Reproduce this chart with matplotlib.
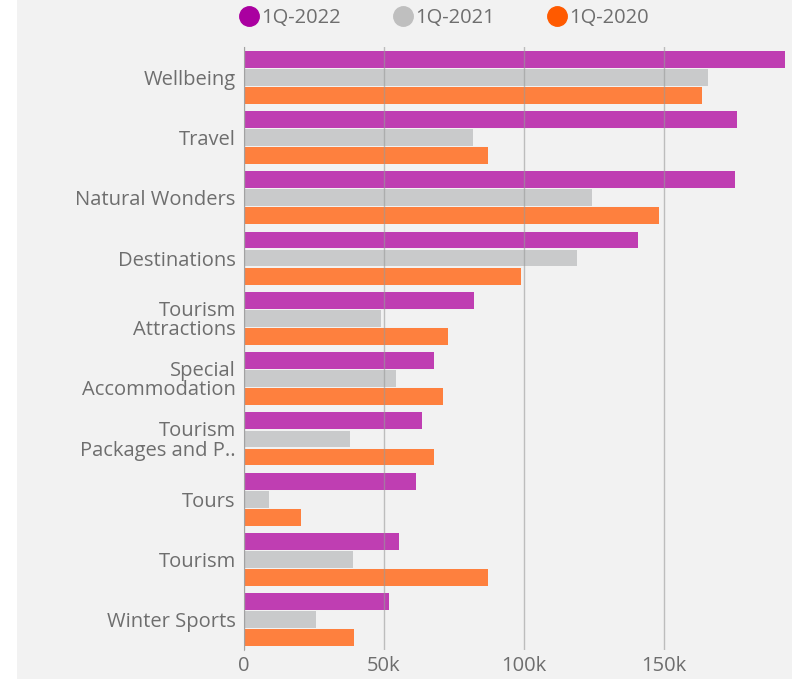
import numpy as np
import matplotlib.pyplot as plt
from matplotlib.lines import Line2D

categories = ['Wellbeing', 'Travel', 'Natural Wonders', 'Destinations',
              'Tourism\nAttractions', 'Special\nAccommodation',
              'Tourism\nPackages and P..', 'Tours', 'Tourism', 'Winter Sports']
series_names = ['1Q-2022', '1Q-2021', '1Q-2020']
q1_2022 = [193600, 176400, 175700, 140700, 82100, 67900, 63600, 61400, 55400, 51800]
q1_2021 = [166000, 81800, 124600, 118900, 48900, 54300, 37900, 8900, 38900, 25700]
q1_2020 = [163600, 87100, 148200, 98900, 72900, 71100, 67900, 20400, 87100, 39300]
xticks = [0, 50000, 100000, 150000]
xtick_labels = ['0', '50k', '100k', '150k']

bar_colors = ['#bf3eb2', '#c9cacb', '#fe803e']
legend_colors = ['#aa00a0', '#bfbfbf', '#ff5a00']
text_color = '#6e6e6e'

plt.rcParams['font.family'] = ['Open Sans', 'DejaVu Sans']

fig = plt.figure(figsize=(7.92, 6.79), dpi=100)
fig.patch.set_facecolor('white')
# light grey panel behind the chart
fig.patches.append(plt.Rectangle((17 / 792, 0), 1, 1, transform=fig.transFigure,
                                 facecolor='#f2f2f2', edgecolor='none', zorder=-5))

ax = fig.add_axes([244 / 792, 1 - 650 / 679, (788 - 244) / 792, (650 - 47) / 679])
ax.set_zorder(1)
ax.set_facecolor('#f2f2f2')

y = np.arange(len(categories))
h = 0.3
for i, (vals, col) in enumerate(zip([q1_2022, q1_2021, q1_2020], bar_colors)):
    ax.barh(y + (i - 1) * h, vals, height=h - 0.02, color=col, zorder=2)

ax.set_ylim(len(categories) - 0.5, -0.5)
ax.set_xlim(0, 194500)
ax.set_yticks(y)
ax.set_yticklabels(categories, fontsize=14.5, color=text_color, linespacing=0.95)
ax.set_xticks(xticks)
ax.set_xticklabels(xtick_labels, fontsize=14.5, color=text_color)
ax.tick_params(axis='y', length=0, pad=6)
ax.tick_params(axis='x', length=0, pad=4)
ax.xaxis.grid(True, color='#9a9a9a', linewidth=1, alpha=0.6, zorder=3)
ax.set_axisbelow(False)
for s in ['top', 'right', 'bottom']:
    ax.spines[s].set_visible(False)
ax.spines['left'].set_color('#b0b0b0')

handles = [Line2D([], [], marker='o', linestyle='none', markersize=14,
                  markerfacecolor=c, markeredgecolor=c) for c in legend_colors]
fig.legend(handles, series_names, loc='center', bbox_to_anchor=(0.558, 1 - 18 / 679),
           ncol=3, frameon=False, handletextpad=-0.1, columnspacing=2.4,
           handlelength=1.4, prop={'size': 14.5}, labelcolor=text_color)

fig.savefig('out.png', dpi=100, facecolor='white')
